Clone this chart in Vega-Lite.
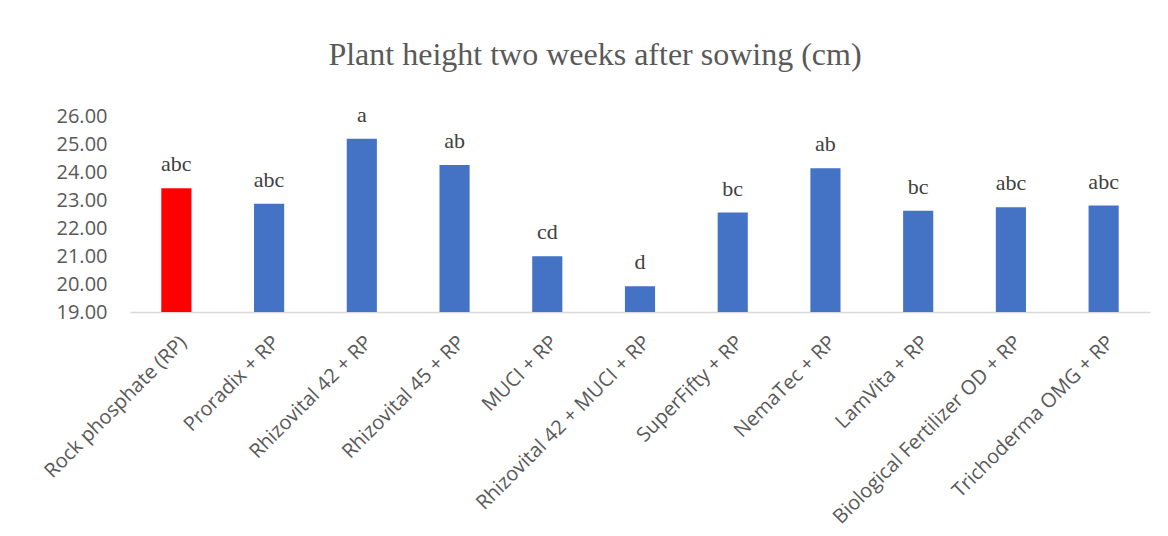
{
  "$schema": "https://vega.github.io/schema/vega-lite/v6.json",
  "width": 1020,
  "height": 196,
  "autosize": {"type": "none"},
  "padding": {"left": 130, "top": 116, "right": 18, "bottom": 224},
  "background": "white",
  "title": {
    "text": "Plant height two weeks after sowing (cm)",
    "font": "Liberation Serif",
    "fontSize": 32,
    "fontWeight": "normal",
    "color": "#595959",
    "anchor": "middle",
    "dx": -45,
    "offset": 32
  },
  "data": {
    "values": [
      {"treatment": "Rock phosphate (RP)", "height": 23.42, "letter": "abc", "group": "control"},
      {"treatment": "Proradix + RP", "height": 22.87, "letter": "abc", "group": "treatment"},
      {"treatment": "Rhizovital 42 + RP", "height": 25.19, "letter": "a", "group": "treatment"},
      {"treatment": "Rhizovital 45 + RP", "height": 24.25, "letter": "ab", "group": "treatment"},
      {"treatment": "MUCI + RP", "height": 20.99, "letter": "cd", "group": "treatment"},
      {"treatment": "Rhizovital 42 + MUCI + RP", "height": 19.92, "letter": "d", "group": "treatment"},
      {"treatment": "SuperFifty + RP", "height": 22.55, "letter": "bc", "group": "treatment"},
      {"treatment": "NemaTec + RP", "height": 24.13, "letter": "ab", "group": "treatment"},
      {"treatment": "LamVita + RP", "height": 22.62, "letter": "bc", "group": "treatment"},
      {"treatment": "Biological Fertilizer OD + RP", "height": 22.74, "letter": "abc", "group": "treatment"},
      {"treatment": "Trichoderma OMG + RP", "height": 22.80, "letter": "abc", "group": "treatment"}
    ]
  },
  "encoding": {
    "x": {
      "field": "treatment",
      "type": "nominal",
      "sort": null,
      "scale": {"paddingInner": 0.675, "paddingOuter": 0.3375},
      "axis": {
        "title": null,
        "labelAngle": -45,
        "labelFont": "Open Sans",
        "labelFontSize": 20,
        "labelColor": "#595959",
        "labelPadding": 20,
        "labelDx": -20,
        "labelDy": -10,
        "ticks": false,
        "domainColor": "#d9d9d9",
        "domainWidth": 1.5,
        "labelLimit": 400
      }
    },
    "y": {
      "field": "height",
      "type": "quantitative",
      "scale": {"domain": [19, 26], "zero": false, "nice": false},
      "axis": {
        "title": null,
        "values": [19, 20, 21, 22, 23, 24, 25, 26],
        "format": ".2f",
        "labelFont": "Open Sans",
        "labelFontSize": 20,
        "labelColor": "#595959",
        "labelPadding": 23,
        "ticks": false,
        "domain": false,
        "grid": false
      }
    }
  },
  "layer": [
    {
      "mark": {"type": "bar"},
      "encoding": {
        "y2": {"datum": 19},
        "color": {
          "field": "group",
          "type": "nominal",
          "scale": {"domain": ["control", "treatment"], "range": ["#FF0000", "#4472C4"]},
          "legend": null
        }
      }
    },
    {
      "mark": {
        "type": "text",
        "font": "Liberation Serif",
        "fontSize": 22,
        "color": "#404040",
        "baseline": "middle",
        "dy": -24
      },
      "encoding": {
        "text": {"field": "letter"}
      }
    }
  ],
  "config": {
    "view": {"stroke": null}
  }
}
